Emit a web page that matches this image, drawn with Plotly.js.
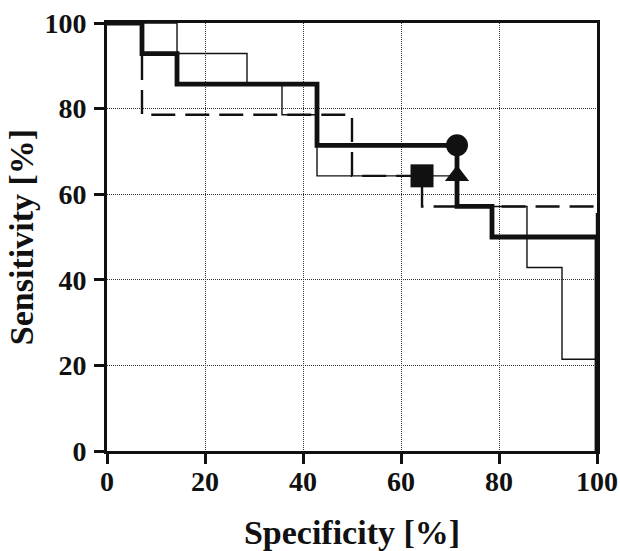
<!DOCTYPE html>
<html>
<head>
<meta charset="utf-8">
<script src="https://cdn.plot.ly/plotly-3.0.1.min.js"></script>
<style>html,body{margin:0;padding:0;background:#fff;}#chart{width:620px;height:551px;}</style>
</head>
<body>
<div id="chart"></div>
<script>
// Step curves (corner points, drawn with 'hv' steps)
const thickSpec = [0, 7.14, 14.29, 42.86, 71.43, 78.57, 100];
const thickSens = [100, 92.86, 85.71, 71.43, 57.14, 50, 0];

const thinSpec = [0, 14.29, 28.57, 35.71, 42.86, 71.43, 85.71, 92.86, 100];
const thinSens = [100, 92.86, 85.71, 78.57, 64.29, 57.14, 42.86, 21.43, 0];

const dashSpec = [0, 7.14, 50, 64.29, 100];
const dashSens = [100, 78.57, 64.29, 57.14, 0];

// Optimal cut-off markers
const circleSpec = [71.43], circleSens = [71.43];
const squareSpec = [64.29], squareSens = [64.29];
const triSpec = [71.43], triSens = [64.29];

const tickVals = [0, 20, 40, 60, 80, 100];
const tickText = ['0', '20', '40', '60', '80', '100'];

const FONT = 'Liberation Serif, Times New Roman, serif';
const tickFont = {family: FONT, size: 28, color: '#111', weight: 'bold'};

const traces = [
  {x: thinSpec, y: thinSens, mode: 'lines', line: {shape: 'hv', color: '#111', width: 1.4}, showlegend: false},
  {x: dashSpec, y: dashSens, mode: 'lines', line: {shape: 'hv', color: '#111', width: 2.4, dash: '24px,10px'}, showlegend: false},
  {x: thickSpec, y: thickSens, mode: 'lines', line: {shape: 'hv', color: '#111', width: 4.8}, showlegend: false},
  {x: circleSpec, y: circleSens, mode: 'markers', marker: {symbol: 'circle', size: 22, color: '#111'}, showlegend: false},
  {x: squareSpec, y: squareSens, mode: 'markers', marker: {symbol: 'square', size: 23, color: '#111'}, showlegend: false},
  {x: triSpec, y: triSens, mode: 'markers', marker: {symbol: 'triangle-up', size: 21, color: '#111'}, showlegend: false},
  // invisible trace that carries the x tick labels axis
  {x: [0, 100], y: [0, 0], xaxis: 'x2', yaxis: 'y', mode: 'markers', marker: {opacity: 0}, hoverinfo: 'skip', showlegend: false}
];

const axisCommon = {
  range: [0, 100],
  tickvals: tickVals,
  ticktext: tickText,
  ticks: 'outside',
  ticklen: 10,
  tickwidth: 3,
  tickcolor: '#111',
  showline: true,
  linewidth: 3,
  linecolor: '#111',
  mirror: true,
  showgrid: true,
  gridcolor: '#333',
  gridwidth: 1,
  griddash: '1px,1px',
  zeroline: false,
  tickfont: tickFont
};

const layout = {
  width: 620,
  height: 551,
  margin: {l: 107, r: 23, t: 23, b: 100},
  paper_bgcolor: '#fff',
  plot_bgcolor: '#fff',
  showlegend: false,
  xaxis: Object.assign({}, axisCommon, {
    showticklabels: false,
    title: {text: 'Specificity [%]', font: {family: FONT, size: 34, color: '#111', weight: 'bold'}, standoff: 60}
  }),
  xaxis2: {
    overlaying: 'x',
    side: 'bottom',
    range: [0, 100],
    tickvals: tickVals,
    ticktext: tickText,
    ticks: '',
    showline: false,
    showgrid: false,
    zeroline: false,
    ticklabelstandoff: 11,
    tickfont: tickFont
  },
  yaxis: Object.assign({}, axisCommon, {
    ticklabelstandoff: 2,
    title: {text: 'Sensitivity [%]', font: {family: FONT, size: 34, color: '#111', weight: 'bold'}, standoff: 1}
  })
};

Plotly.newPlot('chart', traces, layout, {displayModeBar: false, staticPlot: true});
</script>
</body>
</html>
